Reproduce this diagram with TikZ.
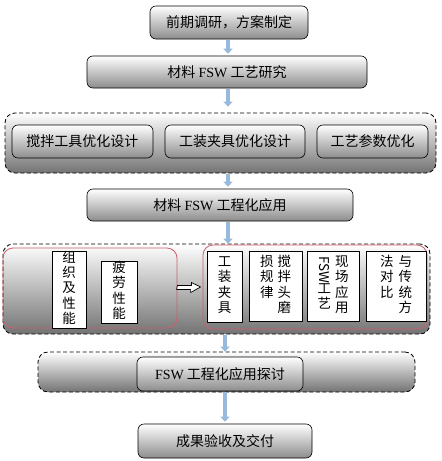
\documentclass[tikz,border=0pt]{standalone}
\usepackage{fontspec}
\setmainfont{Liberation Serif}
\newfontfamily\cjk{Noto Sans CJK SC}
\usetikzlibrary{arrows.meta}
\definecolor{flowblue}{RGB}{150,185,220}
\definecolor{edgered}{RGB}{205,95,110}
\newcommand\fsw{{\rmfamily FSW}}
\newcommand\vcol[1]{\begin{tabular}[t]{@{}c@{}}#1\end{tabular}}

\begin{document}
\begin{tikzpicture}[x=1pt, y=-1pt, font=\cjk\fontsize{14}{16}\selectfont, line join=round,
  box/.style={draw, line width=0.6pt, rounded corners=6pt, top color=white, bottom color=black!45, minimum height=33pt, inner sep=0pt},
  group/.style={draw, line width=0.8pt, dash pattern=on 4pt off 2.5pt, rounded corners=10pt, top color=white, bottom color=black!55, inner sep=0pt},
  redbox/.style={draw=edgered, line width=0.8pt, rounded corners=10pt, inner sep=0pt},
  vbox/.style={draw, line width=0.6pt, fill=white, inner sep=0pt, font=\cjk\fontsize{13.5}{14}\selectfont},
  flow/.style={draw=flowblue, line width=4pt, -{Triangle[width=9pt,length=5pt]}, shorten >=2pt, shorten <=1pt}]
  \useasboundingbox (0,0) rectangle (442,461);
  \coordinate (axis) at (228,0);
  \coordinate (axisb) at (225,0);
  % main line
  \node[box, minimum width=158pt] (plan) at (229,22.5) {前期调研，方案制定};
  \node[box, minimum width=280pt, minimum height=32pt] (study) at (227,72) {材料 \fsw{} 工艺研究};
  % optimisation
  \node[group, minimum width=431pt, minimum height=60pt] (optgrp) at (220.5,143) {};
  \node[box, minimum width=141pt] (tool) at (82.5,141.5) {搅拌工具优化设计};
  \node[box, minimum width=140pt] (fixture) at (235,141.5) {工装夹具优化设计};
  \node[box, minimum width=111pt] (param) at (372.5,141.5) {工艺参数优化};
  \node[box, minimum width=266pt, minimum height=32pt] (apply) at (220,205) {材料 \fsw{} 工程化应用};
  % application
  \node[group, minimum width=427pt, minimum height=90pt] (appgrp) at (216.5,289) {};
  \node[redbox, minimum width=174pt, minimum height=80pt] (perf) at (90,288) {};
  \node[redbox, minimum width=224pt, minimum height=84pt] (field) at (315,287) {};
  \node[vbox, minimum width=34pt, minimum height=75pt] (micro) at (69,289.5) {\vcol{组\\织\\及\\性\\能}};
  \node[vbox, minimum width=36pt, minimum height=60pt] (fatigue) at (119,292) {\vcol{疲\\劳\\性\\能}};
  \node[vbox, minimum width=35pt, minimum height=71pt] (jig) at (224.5,286.5) {\vcol{工\\装\\夹\\具}};
  \node[vbox, minimum width=53pt, minimum height=70pt] (wear) at (275.5,286) {\vcol{损\\规\\律}\hspace{4pt}\vcol{搅\\拌\\头\\磨}};
  \node[vbox, minimum width=52pt, minimum height=70pt] (site) at (333,286) {\vcol{\raisebox{10pt}{\rotatebox{-90}{FSW}}\\工\\艺}\hspace{4pt}\vcol{现\\场\\应\\用}};
  \node[vbox, minimum width=60pt, minimum height=70pt] (compare) at (396,286) {\vcol{法\\对\\比}\hspace{5pt}\vcol{与\\传\\统\\方}};
  \draw[line width=0.7pt, fill=white] ([yshift=2.5pt]perf.east) -- ++(14,0) -- ++(0,-3) -- ([xshift=-2pt]field.west) -- ++(-10,5.5) -- ++(0,-3) -- ++(-14,0) -- cycle;
  % discussion
  \node[group, minimum width=377pt, minimum height=40pt] (discgrp) at (226.5,372) {};
  \node[box, minimum width=166pt, minimum height=34pt] (discuss) at (220,374) {\fsw{} 工程化应用探讨};
  \node[box, minimum width=174pt, minimum height=34pt] (accept) at (225,441) {成果验收及交付};
  % arrows
  \draw[flow] (plan.south -| axis) -- (study.north -| axis);
  \draw[flow, shorten >=6pt] (study.south -| axis) -- (optgrp.north -| axis);
  \draw[flow] (optgrp.south -| axis) -- (apply.north -| axis);
  \draw[flow, shorten >=0pt] (apply.south -| axis) -- (appgrp.north -| axis);
  \draw[flow, shorten >=0pt] (appgrp.south -| axisb) -- (discgrp.north -| axisb);
  \draw[flow] (discuss.south -| axisb) -- (accept.north -| axisb);
\end{tikzpicture}
\end{document}
